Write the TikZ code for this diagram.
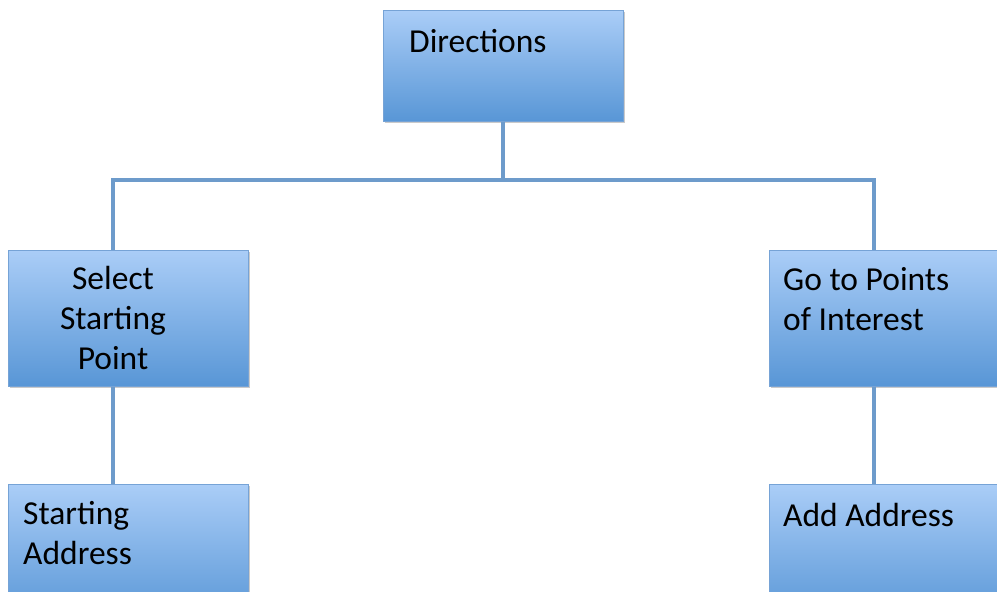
\documentclass[tikz,border=0pt]{standalone}
\usepackage{fontspec}
\setmainfont{Carlito}
\usetikzlibrary{shadows}
\definecolor{boxtop}{HTML}{AACDF7}
\definecolor{boxbot}{HTML}{5896D6}
\definecolor{boxedge}{HTML}{76A3D6}
\definecolor{wire}{HTML}{6D9BCB}
\begin{document}
\begin{tikzpicture}[x=1pt,y=-1pt,
  card/.style={rectangle, draw=boxedge, line width=0.8pt, top color=boxtop, bottom color=boxbot,
    inner sep=0pt, anchor=north west,
    drop shadow={shadow xshift=1.5pt, shadow yshift=-2pt, opacity=0.35, fill=black!60}},
  label/.style={inner sep=0pt, font=\fontsize{33.5}{40}\selectfont, text=black},
  wire/.style={draw=wire, line width=3.5pt}]
  \useasboundingbox (0,0) rectangle (997,592);
  \clip (0,0) rectangle (997,592);

  % junction points of the tree
  \coordinate (hubL) at (113,180);
  \coordinate (hubR) at (874,180);
  \coordinate (hubM) at (503,180);

  % boxes
  \node[card, minimum width=240pt, minimum height=111pt] (dir) at (383,10) {};
  \node[card, minimum width=240pt, minimum height=136pt] (sel) at (8,250) {};
  \node[card, minimum width=240pt, minimum height=136pt] (poi) at (769,250) {};
  \node[card, minimum width=240pt, minimum height=136pt] (sad) at (8,484) {};
  \node[card, minimum width=240pt, minimum height=136pt] (add) at (769,484) {};

  % tree lines
  \draw[wire] (dir.south -| hubM) -- (hubM);
  \draw[wire, line cap=rect] (hubL) -- (hubR);
  \draw[wire] (hubL) -- (hubL |- sel.north);
  \draw[wire] (hubR) -- (hubR |- poi.north);
  \draw[wire] (hubL |- sel.south) -- (hubL |- sad.north);
  \draw[wire] (hubR |- poi.south) -- (hubR |- add.north);

  % texts (base anchor sits on the last line)
  \node[label, anchor=base west] (tdir) at (409,52) {Directions};
  \node[label, anchor=base, align=center] (tsel) at (113,369) {Select\\Starting\\Point};
  \node[label, anchor=base west, align=left] (tpoi) at (783,330) {Go to Points\\of Interest};
  \node[label, anchor=base west, align=left] (tsad) at (23,564) {Starting\\Address};
  \node[label, anchor=base west] (tadd) at (783,526) {Add Address};
\end{tikzpicture}
\end{document}
